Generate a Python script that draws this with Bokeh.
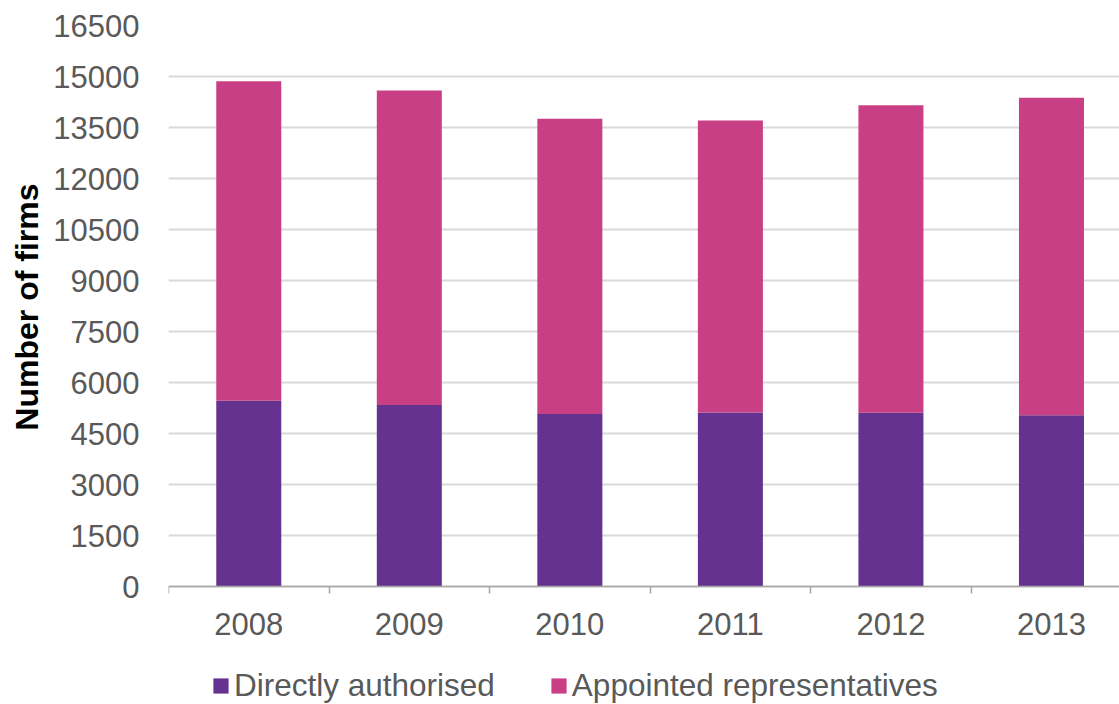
from bokeh.plotting import figure
from bokeh.models import ColumnDataSource, Range1d, FixedTicker, Legend, LegendItem, Title
from bokeh.embed import file_html
from bokeh.resources import INLINE

years = ["2008", "2009", "2010", "2011", "2012", "2013"]
directly_authorised = [5465, 5340, 5075, 5120, 5110, 5035]
appointed_representatives = [9395, 9250, 8680, 8585, 9045, 9340]
y_ticks = [0, 1500, 3000, 4500, 6000, 7500, 9000, 10500, 12000, 13500, 15000, 16500]

PURPLE = "#66328F"
PINK = "#C83F86"
FONT = "Liberation Sans"

# layout: value axis 0..16500 occupies 561px; 118px below zero hold x labels and legend
Y_MAX = 16500
Y_MIN = -118 * Y_MAX / 561

xs = [i + 1 for i in range(len(years))]
source = ColumnDataSource(dict(x=xs, direct=directly_authorised, appointed=appointed_representatives))

p = figure(frame_width=952, frame_height=679, output_backend="svg", toolbar_location=None,
           x_range=Range1d(0.5, 6.43), y_range=Range1d(Y_MIN, Y_MAX),
           min_border_left=167, min_border_top=25, min_border_right=0, min_border_bottom=0)
p.outline_line_color = None

renderers = p.vbar_stack(["direct", "appointed"], x="x", width=0.405, source=source,
                         color=[PURPLE, PINK], line_color=None)

# x axis, pinned at value 0
xa = p.xaxis[0]
xa.fixed_location = 0
xa.ticker = FixedTicker(ticks=xs, minor_ticks=[x - 0.5 for x in xs] + [xs[-1] + 0.5])
xa.major_label_overrides = {x: y for x, y in zip(xs, years)}
xa.major_tick_line_color = None
xa.major_tick_out = 0
xa.major_tick_in = 0
xa.minor_tick_line_color = "#A6A6A6"
xa.minor_tick_line_width = 1.5
xa.minor_tick_out = 7
xa.minor_tick_in = 0
xa.axis_line_color = "#A6A6A6"
xa.axis_line_width = 1.5
xa.major_label_text_font = FONT
xa.major_label_text_font_size = "31px"
xa.major_label_text_color = "#595959"
xa.major_label_standoff = 19
p.xgrid.grid_line_color = None

# y axis
ya = p.yaxis[0]
ya.ticker = FixedTicker(ticks=y_ticks)
ya.axis_line_color = None
ya.major_tick_line_color = None
ya.minor_tick_line_color = None
ya.major_tick_out = 0
ya.major_tick_in = 0
ya.major_label_text_font = FONT
ya.major_label_text_font_size = "31px"
ya.major_label_text_color = "#595959"
ya.major_label_standoff = 29
p.ygrid.grid_line_color = "#D9D9D9"
p.ygrid.grid_line_width = 2

ytitle = Title(text="Number of firms", align="right", offset=158, standoff=12,
               text_font=FONT, text_font_size="32px", text_font_style="bold", text_color="#000000")
p.add_layout(ytitle, "left")

legend = Legend(items=[LegendItem(label="Directly authorised", renderers=[renderers[0]]),
                       LegendItem(label="Appointed representatives", renderers=[renderers[1]])],
                orientation="horizontal", location=(43, 0),
                glyph_width=19, glyph_height=19, label_standoff=4, spacing=54,
                label_text_font=FONT, label_text_font_size="31.5px", label_text_color="#595959",
                border_line_color=None, background_fill_alpha=0, padding=0, margin=0)
p.add_layout(legend, "center")

open("out.html", "w").write(file_html(p, INLINE))
